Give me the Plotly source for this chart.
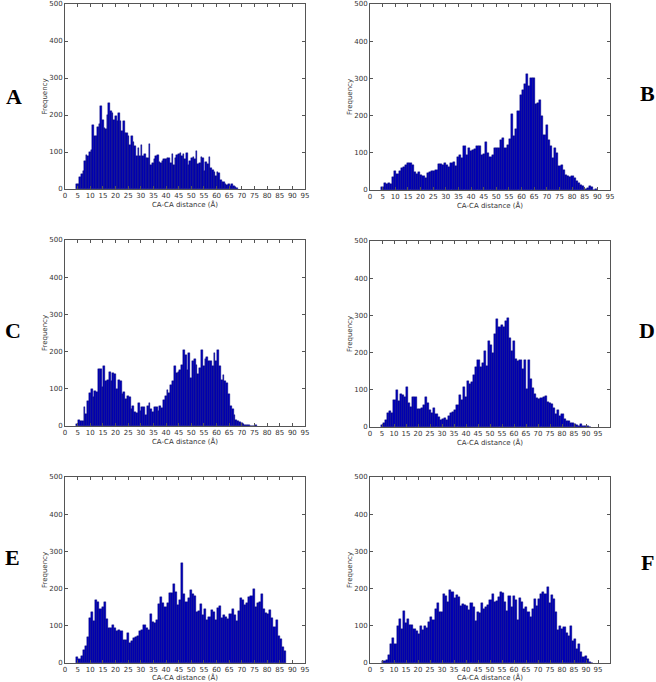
import plotly.graph_objects as go

# ---------------- data (histogram counts) ----------------
# Each panel: first bin edge, bin width, counts per bin
a_start, a_width = 4.4, 0.64
a_counts = [14, 14, 32, 40, 50, 75, 93, 88, 100, 106, 174, 142, 144, 168, 175, 223, 187, 165, 162, 200,
            232, 212, 205, 187, 196, 183, 205, 183, 156, 183, 152, 151, 144, 120, 142, 128, 115, 88, 110, 88,
            120, 88, 95, 84, 84, 122, 64, 70, 81, 90, 92, 72, 70, 75, 81, 80, 84, 84, 70, 95,
            66, 84, 93, 95, 97, 88, 94, 80, 97, 65, 75, 84, 87, 80, 102, 68, 70, 87, 83, 50,
            72, 68, 86, 57, 52, 45, 34, 46, 43, 25, 18, 20, 14, 12, 14, 9, 14, 7, 5, 3]

b_start, b_width = 4.5, 0.855
b_counts = [8, 18, 15, 20, 15, 35, 52, 42, 52, 58, 63, 66, 73, 72, 68, 48, 42, 48, 40, 37,
            32, 45, 48, 52, 50, 55, 70, 70, 68, 72, 66, 62, 72, 74, 64, 90, 93, 85, 118, 95,
            113, 105, 108, 110, 117, 117, 93, 97, 128, 100, 88, 93, 112, 112, 113, 135, 140, 112, 120, 137,
            205, 145, 165, 212, 255, 270, 285, 312, 280, 300, 302, 230, 235, 243, 200, 148, 175, 135, 118, 87,
            112, 100, 65, 68, 55, 40, 38, 36, 38, 33, 25, 20, 14, 10, 3, 5, 10, 7, 0, 3]

c_start, c_width = 4.5, 0.715
c_counts = [5, 17, 14, 14, 50, 32, 68, 88, 100, 78, 95, 92, 152, 152, 105, 162, 120, 125, 145, 120,
            142, 140, 100, 125, 122, 85, 92, 73, 80, 78, 45, 55, 37, 35, 62, 40, 52, 50, 30, 55,
            62, 45, 38, 52, 52, 40, 55, 48, 70, 80, 97, 88, 110, 120, 162, 143, 145, 150, 165, 203,
            190, 150, 195, 128, 175, 180, 165, 140, 155, 203, 160, 180, 185, 175, 175, 160, 195, 175, 203, 160,
            125, 138, 120, 115, 85, 55, 45, 30, 15, 14, 10, 8, 5, 3, 3, 2, 1, 0, 1, 3]

d_start, d_width = 4.5, 0.875
d_counts = [5, 10, 18, 38, 42, 38, 72, 100, 70, 88, 85, 80, 108, 65, 55, 82, 80, 48, 48, 50,
            58, 82, 65, 45, 38, 50, 35, 28, 18, 22, 25, 18, 30, 38, 40, 45, 60, 85, 72, 108,
            80, 125, 115, 120, 140, 162, 180, 160, 172, 205, 165, 230, 220, 200, 250, 290, 270, 275, 270, 285,
            292, 240, 205, 232, 182, 178, 180, 155, 180, 102, 180, 130, 105, 90, 78, 75, 78, 80, 83, 68,
            65, 62, 50, 35, 45, 30, 35, 22, 15, 15, 10, 12, 8, 5, 3, 7, 2, 3, 2, 1]

e_start, e_width = 4.5, 0.83
e_counts = [15, 12, 18, 35, 45, 70, 122, 138, 112, 170, 165, 145, 150, 165, 118, 95, 95, 102, 95, 85,
            88, 86, 63, 62, 80, 55, 58, 68, 70, 72, 85, 88, 102, 93, 90, 133, 110, 108, 115, 158,
            178, 162, 150, 160, 187, 187, 212, 190, 157, 170, 268, 185, 165, 175, 195, 185, 180, 138, 140, 158,
            130, 146, 115, 125, 142, 138, 115, 147, 152, 122, 128, 125, 118, 132, 145, 128, 112, 140, 175, 170,
            157, 160, 178, 180, 200, 150, 162, 165, 185, 145, 135, 133, 142, 120, 97, 115, 72, 65, 42, 33]

f_start, f_width = 4.9, 0.88
f_counts = [5, 5, 8, 22, 50, 68, 52, 100, 118, 92, 140, 108, 118, 102, 102, 92, 85, 77, 100, 88,
            100, 95, 110, 125, 115, 145, 160, 138, 138, 185, 180, 165, 197, 190, 175, 182, 178, 152, 158, 155,
            152, 142, 162, 150, 112, 138, 135, 160, 145, 150, 155, 170, 185, 165, 168, 178, 190, 188, 165, 140,
            180, 150, 180, 170, 115, 175, 165, 145, 150, 138, 125, 145, 172, 152, 172, 185, 192, 185, 205, 160,
            182, 172, 138, 88, 100, 92, 97, 82, 72, 100, 58, 65, 38, 50, 30, 15, 18, 10, 3, 1]

panel_letters = ["A", "B", "C", "D", "E", "F"]
x_tick_values = [0, 5, 10, 15, 20, 25, 30, 35, 40, 45, 50, 55, 60, 65, 70, 75, 80, 85, 90, 95]
y_tick_values = [0, 100, 200, 300, 400, 500]
x_label = "CA-CA distance (Å)"
y_label = "Frequency"

# ---------------- layout / styling ----------------
W, H = 656, 682

panels = [
    (a_start, a_width, a_counts, 95),
    (b_start, b_width, b_counts, 95),
    (c_start, c_width, c_counts, 95),
    (d_start, d_width, d_counts, 100),
    (e_start, e_width, e_counts, 95),
    (f_start, f_width, f_counts, 100),
]
# pixel boxes (left, right, top, bottom)
boxes = [
    (65, 305, 4, 189),
    (370, 610, 4, 190),
    (65, 305, 240, 426),
    (370, 610, 241, 427),
    (65, 305, 477, 663),
    (370, 610, 477, 663),
]
letter_pos = [(14, 97), (647, 93), (13, 330), (647, 330), (12, 557), (647, 562)]


def px_x(x):
    return x / W


def px_y(y):
    return 1 - y / H


fig = go.Figure()
layout = dict(
    width=W, height=H,
    margin=dict(l=0, r=0, t=0, b=0),
    paper_bgcolor="white", plot_bgcolor="white",
    showlegend=False, bargap=0,
    font=dict(family="DejaVu Sans", color="#333333", size=7),
)
axis_common = dict(
    showgrid=False, zeroline=False, showline=True, linecolor="#555555", linewidth=1,
    mirror="allticks", ticks="inside", ticklen=3, tickcolor="#555555", tickwidth=1,
    tickfont=dict(size=7, color="#333333", family="DejaVu Sans"), automargin=False,
)
for i, (start, width, counts, xmax) in enumerate(panels):
    n = i + 1
    xs = [start + width * (k + 0.5) for k in range(len(counts))]
    fig.add_trace(go.Bar(
        x=xs, y=counts, width=width,
        marker=dict(color="#0000b8", line=dict(color="#000070", width=0.4)),
        xaxis=f"x{n}", yaxis=f"y{n}", hoverinfo="x+y",
    ))
    l, r, t, b = boxes[i]
    xa = dict(axis_common, domain=[px_x(l), px_x(r)], range=[0, xmax], tickvals=x_tick_values,
              anchor=f"y{n}",
              title=dict(text=x_label, font=dict(size=7, color="#333333"), standoff=2))
    ya = dict(axis_common, domain=[px_y(b), px_y(t)], range=[0, 500], tickvals=y_tick_values,
              anchor=f"x{n}",
              title=dict(text=y_label, font=dict(size=7, color="#333333"), standoff=0))
    layout["xaxis" if n == 1 else f"xaxis{n}"] = xa
    layout["yaxis" if n == 1 else f"yaxis{n}"] = ya

annotations = []
for letter, (px, py) in zip(panel_letters, letter_pos):
    annotations.append(dict(
        text=f"<b>{letter}</b>", x=px_x(px), y=px_y(py), xref="paper", yref="paper",
        showarrow=False, xanchor="center", yanchor="middle",
        font=dict(family="Liberation Serif", size=22, color="black"),
    ))
layout["annotations"] = annotations
fig.update_layout(**layout)
# remove the default 8px page margin so the figure sits at the window's top-left corner
fig.write_html("out.html", config={"displayModeBar": False},
               post_script="document.body.style.margin='0';")
